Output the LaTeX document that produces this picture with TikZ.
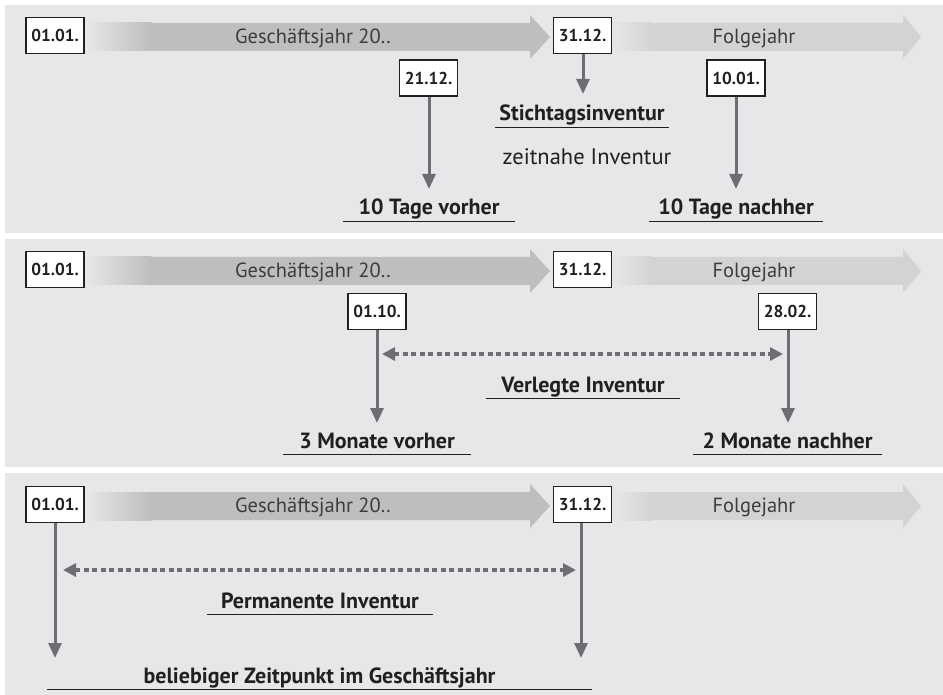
\documentclass[tikz,border=0pt]{standalone}
\usepackage{fontspec}
\setmainfont{PT Sans}
\usetikzlibrary{arrows.meta}
\definecolor{panelc}{HTML}{E6E7E8}
\definecolor{bandA}{HTML}{BCBEC0}
\definecolor{bandB}{HTML}{D1D3D4}
\definecolor{arrowc}{HTML}{6D6E71}
\definecolor{textc}{HTML}{231F20}
\definecolor{bandtextc}{HTML}{3C3C3E}
\newcommand\timeline[2]{%
  \begin{scope}[shift={(0,#1)}]
    \shade[left color=panelc, right color=bandA] (86,-14) rectangle (151,14);
    \fill[bandA] (150,-14) -- (530,-14) -- (530,-22) -- (550,0) -- (530,22) -- (530,14) -- (150,14) -- cycle;
    \shade[left color=panelc, right color=bandB] (612,-14) rectangle (651,14);
    \fill[bandB] (650,-14) -- (903,-14) -- (903,-22) -- (921,0) -- (903,22) -- (903,14) -- (650,14) -- cycle;
    \node[bandtext] (#2gj) at (313,1) {Geschäftsjahr 20..};
    \node[bandtext] (#2fj) at (754,1) {Folgejahr};
    \node[datebox] (#2s) at (55,-1.5) {01.01.};
    \node[datebox] (#2e) at (582.5,-1.5) {31.12.};
  \end{scope}}
\newcommand\ulabel[5]{%
  \node[lbl, minimum width=#4] (#1) at (#2,#3) {#5};
  \draw[uline] ([yshift=-6.5pt]#1.base west) -- ([yshift=-6.5pt]#1.base east);}
\begin{document}
\begin{tikzpicture}[x=1pt,y=-1pt,
  datebox/.style={draw=textc, line width=1.2pt, fill=white, minimum width=58pt, minimum height=36pt, inner sep=0pt, font=\fontsize{17.2}{18}\selectfont\bfseries, text=textc},
  bandtext/.style={font=\fontsize{20.5}{22}\selectfont, text=bandtextc},
  lbl/.style={font=\fontsize{22}{24}\selectfont\bfseries, text=textc, anchor=base, inner sep=0pt},
  subtext/.style={font=\fontsize{22.5}{24}\selectfont, text=textc, anchor=base, inner sep=0pt},
  down/.style={draw=arrowc, line width=3pt, -{Triangle[width=13pt,length=15pt]}},
  span/.style={draw=arrowc, line width=3.2pt, dash pattern=on 5pt off 3.5pt, {Triangle[width=13pt,length=13pt]}-{Triangle[width=13pt,length=13pt]}},
  uline/.style={draw=textc, line width=1.2pt}
]
\useasboundingbox (0,0) rectangle (943,695);
\fill[white] (0,0) rectangle (943,695);
\fill[panelc] (5,5) rectangle (943,233);
\fill[panelc] (5,239) rectangle (943,467);
\fill[panelc] (5,473) rectangle (943,695);

% ---------- panel 1 ----------
\timeline{37}{pa}
\node[datebox] (d2112) at (428.5,78) {21.12.};
\node[datebox] (d1001) at (736,78) {10.01.};
\coordinate (t2112) at (429,189);
\coordinate (t3112) at (583,94);
\coordinate (t1001) at (736,189);
\draw[down] (d2112.south -| t2112) -- (t2112);
\draw[down] (pae.south -| t3112) -- (t3112);
\draw[down] (d1001.south) -- (t1001);
\ulabel{stich}{582}{121}{173pt}{Stichtagsinventur}
\node[subtext] (zeit) at (587,165) {zeitnahe Inventur};
\ulabel{vorher}{429}{215}{172pt}{10 Tage vorher}
\ulabel{nachher}{736}{215}{173pt}{10 Tage nachher}

% ---------- panel 2 ----------
\timeline{271}{pb}
\node[datebox] (d0110) at (377,311.5) {01.10.};
\node[datebox] (d2802) at (787.5,311.5) {28.02.};
\coordinate (t0110) at (377,423);
\coordinate (t2802) at (788,423);
\draw[down] (d0110.south) -- (t0110);
\draw[down] (d2802.south -| t2802) -- (t2802);
\coordinate (vl) at (382,354);
\coordinate (vr) at (783,354);
\draw[span] (vl) -- (vr);
\ulabel{verl}{583}{392}{193pt}{Verlegte Inventur}
\ulabel{mvor}{377}{448}{188pt}{3 Monate vorher}
\ulabel{mnach}{787.5}{448}{189pt}{2 Monate nachher}

% ---------- panel 3 ----------
\timeline{506}{pc}
\coordinate (t0101) at (55,658);
\coordinate (t3112c) at (581,658);
\draw[down] (pcs.south) -- (t0101);
\draw[down] (pce.south -| t3112c) -- (t3112c);
\coordinate (pl) at (63,570);
\coordinate (pr) at (576,570);
\draw[span] (pl) -- (pr);
\ulabel{perm}{320}{608}{225pt}{Permanente Inventur}
\ulabel{belieb}{319.5}{683}{545pt}{beliebiger Zeitpunkt im Geschäftsjahr}
\end{tikzpicture}
\end{document}
